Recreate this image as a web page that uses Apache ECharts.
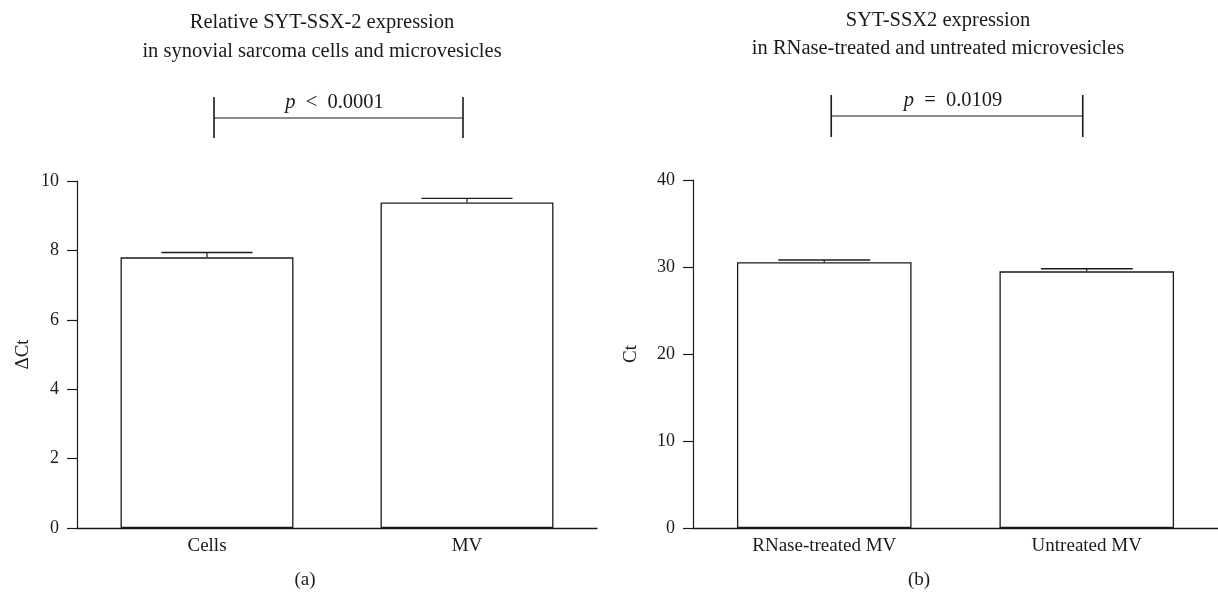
<!DOCTYPE html>
<html>
<head>
<meta charset="utf-8">
<script src="https://cdn.jsdelivr.net/npm/echarts@6/dist/echarts.min.js"></script>
<style>
html,body{margin:0;padding:0;background:#fff;}
#c{width:1218px;height:595px;}
</style>
</head>
<body>
<div id="c"></div>
<script>
// ---- data ----
var catsA = ['Cells', 'MV'];
var valsA = [7.8, 9.38];
var errA = [0.14, 0.12];
var ticksA = [0, 2, 4, 6, 8, 10];

var catsB = ['RNase-treated MV', 'Untreated MV'];
var valsB = [30.55, 29.5];
var errB = [0.25, 0.3];
var ticksB = [0, 10, 20, 30, 40];

var titleA = 'Relative SYT-SSX-2 expression\nin synovial sarcoma cells and microvesicles';
var titleB = 'SYT-SSX2 expression\nin RNase-treated and untreated microvesicles';
var pA = '< 0.0001';
var pB = '= 0.0109';

var FONT = '"Liberation Serif", "DejaVu Serif", serif';
var INK = '#1a1a1a';
var FS = 19;
var TFS = 20.5;

var chart = echarts.init(document.getElementById('c'), null, {renderer: 'canvas'});

function errData(vals, errs) {
  return vals.map(function (v, i) { return [i, v, errs[i]]; });
}

function errRender(params, api) {
  var i = api.value(0), v = api.value(1), e = api.value(2);
  var top = api.coord([i, v + e]);
  var base = api.coord([i, v]);
  var band = api.size([1, 0])[0];
  var half = band * 0.175;
  return {
    type: 'group',
    children: [
      {type: 'line', shape: {x1: base[0], y1: base[1], x2: top[0], y2: top[1]}, style: {stroke: INK, lineWidth: 1.2}},
      {type: 'line', shape: {x1: top[0] - half, y1: top[1], x2: top[0] + half, y2: top[1]}, style: {stroke: INK, lineWidth: 1.4}}
    ]
  };
}

function bracketRender(label, yLine, yTop, yBot) {
  return function (params, api) {
    if (params.dataIndex !== 0) return null;
    var a = api.coord([0, 0]);
    var b = api.coord([1, 0]);
    var x1 = a[0] + 7, x2 = b[0] - 4;
    return {
      type: 'group',
      children: [
        {type: 'line', shape: {x1: x1, y1: yLine, x2: x2, y2: yLine}, style: {stroke: INK, lineWidth: 1.2}},
        {type: 'line', shape: {x1: x1, y1: yTop, x2: x1, y2: yBot}, style: {stroke: INK, lineWidth: 1.6}},
        {type: 'line', shape: {x1: x2, y1: yTop, x2: x2, y2: yBot}, style: {stroke: INK, lineWidth: 1.6}},
        {type: 'text', x: (x1 + x2) / 2 - 4, y: yLine - 5,
          style: {
            text: '{i|p}{n|\u2002' + label.replace(' ', '\u2002') + '}',
            align: 'center', verticalAlign: 'bottom',
            rich: {
              i: {fontFamily: FONT, fontStyle: 'italic', fontSize: 20.5, fill: INK},
              n: {fontFamily: FONT, fontSize: 20.5, fill: INK}
            }
          }}
      ]
    };
  };
}

function yAxisCfg(gi, name, ticks, gap) {
  return {
    type: 'value', gridIndex: gi,
    min: ticks[0], max: ticks[ticks.length - 1], interval: ticks[1] - ticks[0],
    name: name, nameLocation: 'middle', nameGap: gap, nameRotate: 90,
    nameTextStyle: {fontFamily: FONT, fontSize: FS, color: INK},
    axisLine: {show: true, lineStyle: {color: INK, width: 1.2}},
    axisTick: {show: true, length: 10, lineStyle: {color: INK, width: 1.2}},
    axisLabel: {fontFamily: FONT, fontSize: 18, color: INK, margin: 18},
    splitLine: {show: false}
  };
}

function xAxisCfg(gi, cats) {
  return {
    type: 'category', gridIndex: gi, data: cats,
    axisLine: {show: true, lineStyle: {color: INK, width: 1.4}},
    axisTick: {show: false},
    axisLabel: {fontFamily: FONT, fontSize: FS, color: INK, margin: 9}
  };
}

var barStyle = {color: '#fff', borderColor: INK, borderWidth: 1.3};

chart.setOption({
  animation: false,
  backgroundColor: '#fff',
  title: [
    {text: titleA, left: 317, top: 3, textAlign: 'center',
      textStyle: {fontFamily: FONT, fontSize: TFS, fontWeight: 'normal', color: INK, lineHeight: 29}},
    {text: titleB, left: 933, top: 2, textAlign: 'center',
      textStyle: {fontFamily: FONT, fontSize: TFS, fontWeight: 'normal', color: INK, lineHeight: 28}},
    {text: '(a)', left: 300, top: 566, textAlign: 'center',
      textStyle: {fontFamily: FONT, fontSize: FS, fontWeight: 'normal', color: INK}},
    {text: '(b)', left: 914, top: 566, textAlign: 'center',
      textStyle: {fontFamily: FONT, fontSize: FS, fontWeight: 'normal', color: INK}}
  ],
  grid: [
    {left: 77, top: 181, width: 520, height: 347},
    {left: 693, top: 180, width: 527, height: 348}
  ],
  xAxis: [xAxisCfg(0, catsA), xAxisCfg(1, catsB)],
  yAxis: [yAxisCfg(0, '\u0394Ct', ticksA, 44), yAxisCfg(1, 'Ct', ticksB, 52)],
  series: [
    {type: 'bar', xAxisIndex: 0, yAxisIndex: 0, data: valsA, barWidth: '66.5%', itemStyle: barStyle, z: 2},
    {type: 'bar', xAxisIndex: 1, yAxisIndex: 1, data: valsB, barWidth: '66.5%', itemStyle: barStyle, z: 2},
    {type: 'custom', xAxisIndex: 0, yAxisIndex: 0, data: errData(valsA, errA), renderItem: errRender, z: 3},
    {type: 'custom', xAxisIndex: 1, yAxisIndex: 1, data: errData(valsB, errB), renderItem: errRender, z: 3},
    {type: 'custom', xAxisIndex: 0, yAxisIndex: 0, data: [[0, 0]], clip: false, silent: true,
      renderItem: bracketRender(pA, 118, 97, 138), z: 3},
    {type: 'custom', xAxisIndex: 1, yAxisIndex: 1, data: [[0, 0]], clip: false, silent: true,
      renderItem: bracketRender(pB, 116, 95, 137), z: 3}
  ]
});
</script>
</body>
</html>
